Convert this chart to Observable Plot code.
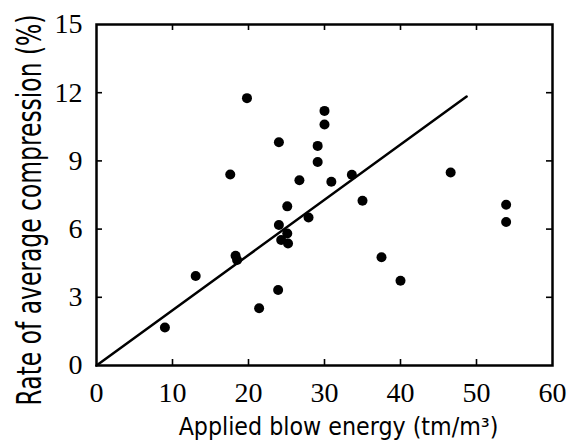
<!DOCTYPE html>
<html><head><meta charset="utf-8">
<script src="https://cdn.jsdelivr.net/npm/d3@7"></script>
<script src="https://cdn.jsdelivr.net/npm/@observablehq/plot@0.6"></script>
<style>
body{margin:0;background:#fff}
#chart svg text.tlab{font-family:"Liberation Serif","Times New Roman",Times,serif !important;font-size:28px !important}
</style>
</head><body><div id="chart"></div>
<script>
const energy = [9.0, 13.05, 17.6, 18.3, 18.5, 19.8, 21.4, 23.9, 24.0, 24.0, 24.3, 25.1, 25.1, 25.2, 26.7, 27.9, 29.1, 29.1, 30.0, 30.0, 30.9, 33.6, 35.0, 37.5, 40.0, 46.6, 53.9, 53.9];
const compression = [1.67, 3.94, 8.40, 4.83, 4.64, 11.76, 2.52, 3.32, 9.82, 6.18, 5.52, 7.0, 5.81, 5.37, 8.15, 6.51, 9.66, 8.95, 11.2, 10.6, 8.08, 8.39, 7.25, 4.76, 3.73, 8.49, 7.07, 6.31];
const fitX = [0, 48.7];
const fitY = [0, 11.83];
const xTicks = [0, 10, 20, 30, 40, 50, 60];
const yTicks = [0, 3, 6, 9, 12, 15];
const xInner = [10, 20, 30, 40, 50];
const yInner = [3, 6, 9, 12];
const xTitle = "Applied blow energy (tm/m³)";
const yTitle = "Rate of average compression (%)";

const points = energy.map((x, i) => ({x, y: compression[i]}));
const fit = fitX.map((x, i) => ({x, y: fitY[i]}));

const W = 575, H = 447, mL = 96, mR = 23, mT = 24, mB = 82;
const xDom = [0, 60], yDom = [0, 15];
// tick length of 6px expressed in each scale's units
const tx = 6 * (xDom[1] - xDom[0]) / (W - mL - mR);
const ty = 6 * (yDom[1] - yDom[0]) / (H - mT - mB);
const serifFont = "Liberation Serif, Times New Roman, Times, serif";

const plot = Plot.plot({
  width: W, height: H,
  marginLeft: mL, marginRight: mR, marginTop: mT, marginBottom: mB,
  x: {domain: xDom, axis: null, label: null},
  y: {domain: yDom, axis: null, label: null},
  marks: [
    Plot.ruleX(xInner, {x: d => d, y1: yDom[0], y2: yDom[0] + ty, stroke: "#000", strokeWidth: 1.6}),
    Plot.ruleX(xInner, {x: d => d, y1: yDom[1], y2: yDom[1] - ty, stroke: "#000", strokeWidth: 1.6}),
    Plot.ruleY(yInner, {y: d => d, x1: xDom[0], x2: xDom[0] + tx, stroke: "#000", strokeWidth: 1.6}),
    Plot.ruleY(yInner, {y: d => d, x1: xDom[1], x2: xDom[1] - tx, stroke: "#000", strokeWidth: 1.6}),
    Plot.text(xTicks, {x: d => d, text: d => String(d), frameAnchor: "bottom", textAnchor: "middle", lineAnchor: "top", dy: 17, fontSize: 28, fontFamily: serifFont, fill: "#000"}),
    Plot.text(yTicks, {y: d => d, text: d => String(d), frameAnchor: "left", textAnchor: "end", dx: -14, fontSize: 28, fontFamily: serifFont, fill: "#000"}),
    Plot.frame({stroke: "#000", strokeWidth: 2.5}),
    Plot.line(fit, {x: "x", y: "y", stroke: "#000", strokeWidth: 2.5}),
    Plot.dot(points, {x: "x", y: "y", r: 5, fill: "#000", stroke: "none"}),
    Plot.text([xTitle], {frameAnchor: "bottom", textAnchor: "middle", dx: 14, dy: 69, fontSize: 24, fontFamily: "DejaVu Sans", fill: "#000"}),
    Plot.text([yTitle], {frameAnchor: "left", textAnchor: "middle", rotate: -90, dx: -66, dy: 15, fontSize: 34, fontFamily: "DejaVu Sans", fill: "#000"})
  ]
});
document.getElementById("chart").appendChild(plot);
const labelSet = new Set([...xTicks, ...yTicks].map(String));
d3.select(plot).selectAll("text").each(function() {
  const t = this.textContent.trim();
  if (t === xTitle || t === yTitle) {
    const len = this.getComputedTextLength();
    const target = t === xTitle ? 320 : 391;
    const tr = this.getAttribute("transform") || "";
    if (len > 0) this.setAttribute("transform", tr + " scale(" + (target / len) + ",1)");
  } else if (labelSet.has(t)) {
    this.classList.add("tlab");
    this.setAttribute("font-family", serifFont);
    this.setAttribute("font-size", "28");
    this.style.fontFamily = serifFont;
    this.style.fontSize = "28px";
  }
});
</script>
</body></html>
